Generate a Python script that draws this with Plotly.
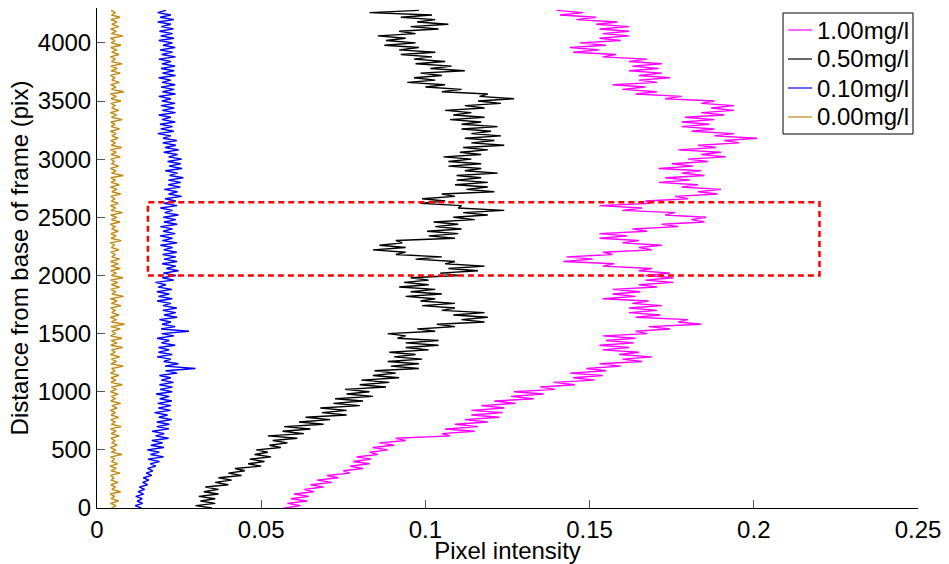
import plotly.graph_objects as go

# Sampling positions along the frame (pix)
distance = list(range(0, 4281, 20))

# Pixel intensity profiles
conc_100 = [0.057, 0.062, 0.058, 0.064, 0.059, 0.0645, 0.060, 0.066, 0.063, 0.069,
            0.065, 0.0715, 0.067, 0.0735, 0.070, 0.077, 0.075, 0.081, 0.077, 0.083,
            0.078, 0.0835, 0.079, 0.0855, 0.083, 0.0885, 0.084, 0.0905, 0.086, 0.094,
            0.091, 0.1075, 0.105, 0.115, 0.106, 0.116, 0.109, 0.119, 0.112, 0.1225,
            0.114, 0.1235, 0.114, 0.124, 0.117, 0.1275, 0.121, 0.133, 0.126, 0.136,
            0.127, 0.1395, 0.135, 0.1455, 0.139, 0.1515, 0.145, 0.154, 0.144, 0.155,
            0.149, 0.1595, 0.153, 0.166, 0.160, 0.169, 0.159, 0.165, 0.154, 0.162,
            0.153, 0.1635, 0.155, 0.164, 0.154, 0.1675, 0.164, 0.1745, 0.168, 0.184,
            0.177, 0.180, 0.164, 0.1715, 0.162, 0.1705, 0.162, 0.172, 0.163, 0.168,
            0.154, 0.164, 0.157, 0.1655, 0.157, 0.1705, 0.165, 0.1755, 0.167, 0.1755,
            0.167, 0.1745, 0.165, 0.169, 0.154, 0.1575, 0.142, 0.151, 0.143, 0.157,
            0.154, 0.169, 0.165, 0.172, 0.160, 0.165, 0.153, 0.1615, 0.153, 0.1675,
            0.163, 0.177, 0.172, 0.185, 0.181, 0.1855, 0.173, 0.176, 0.160, 0.166,
            0.153, 0.1685, 0.167, 0.180, 0.176, 0.189, 0.183, 0.190, 0.178, 0.183,
            0.171, 0.1805, 0.173, 0.185, 0.178, 0.184, 0.171, 0.1815, 0.175, 0.186,
            0.180, 0.1915, 0.184, 0.190, 0.177, 0.1885, 0.183, 0.1955, 0.191, 0.201,
            0.188, 0.194, 0.181, 0.188, 0.178, 0.1865, 0.178, 0.188, 0.179, 0.191,
            0.184, 0.194, 0.187, 0.194, 0.184, 0.188, 0.173, 0.178, 0.164, 0.1705,
            0.160, 0.167, 0.157, 0.1705, 0.165, 0.1745, 0.165, 0.172, 0.162, 0.171,
            0.163, 0.172, 0.162, 0.1675, 0.154, 0.158, 0.145, 0.153, 0.144, 0.155,
            0.147, 0.1595, 0.153, 0.162, 0.154, 0.162, 0.153, 0.162, 0.152, 0.1585,
            0.146, 0.152, 0.141, 0.148, 0.140]

conc_050 = [0.035, 0.030, 0.036, 0.0315, 0.036, 0.031, 0.037, 0.0325, 0.037, 0.033,
            0.040, 0.036, 0.041, 0.037, 0.044, 0.040, 0.045, 0.042, 0.050, 0.046,
            0.051, 0.0465, 0.053, 0.048, 0.052, 0.0485, 0.056, 0.0525, 0.058, 0.0535,
            0.061, 0.052, 0.063, 0.0565, 0.065, 0.057, 0.069, 0.0615, 0.071, 0.0635,
            0.076, 0.0685, 0.076, 0.068, 0.080, 0.072, 0.081, 0.0725, 0.084, 0.076,
            0.083, 0.0755, 0.088, 0.080, 0.089, 0.0805, 0.092, 0.084, 0.091, 0.0845,
            0.098, 0.0895, 0.098, 0.0885, 0.099, 0.0905, 0.097, 0.089, 0.101, 0.094,
            0.104, 0.094, 0.104, 0.0915, 0.094, 0.0885, 0.103, 0.0975, 0.109, 0.1035,
            0.118, 0.111, 0.119, 0.1085, 0.118, 0.105, 0.109, 0.099, 0.109, 0.0985,
            0.103, 0.094, 0.105, 0.0955, 0.103, 0.092, 0.101, 0.0935, 0.101, 0.0955,
            0.110, 0.1045, 0.116, 0.107, 0.118, 0.106, 0.109, 0.097, 0.105, 0.091,
            0.094, 0.084, 0.094, 0.086, 0.093, 0.091, 0.109, 0.101, 0.110, 0.1005,
            0.111, 0.103, 0.110, 0.1025, 0.115, 0.1085, 0.119, 0.1115, 0.124, 0.110,
            0.111, 0.0985, 0.106, 0.099, 0.109, 0.105, 0.121, 0.1125, 0.119, 0.109,
            0.119, 0.1095, 0.117, 0.1095, 0.122, 0.112, 0.117, 0.107, 0.117, 0.107,
            0.114, 0.1055, 0.117, 0.1105, 0.119, 0.1115, 0.124, 0.114, 0.121, 0.112,
            0.123, 0.114, 0.120, 0.111, 0.122, 0.111, 0.117, 0.1075, 0.118, 0.1085,
            0.114, 0.106, 0.118, 0.112, 0.123, 0.116, 0.127, 0.1165, 0.119, 0.105,
            0.111, 0.100, 0.106, 0.0945, 0.103, 0.0965, 0.105, 0.0985, 0.112, 0.1015,
            0.108, 0.097, 0.106, 0.0965, 0.102, 0.0925, 0.103, 0.092, 0.098, 0.0875,
            0.097, 0.088, 0.094, 0.0855, 0.097, 0.092, 0.104, 0.0955, 0.107, 0.0975,
            0.103, 0.0925, 0.102, 0.083, 0.098]

conc_010 = [0.0135, 0.0116, 0.0139, 0.0122, 0.0138, 0.0118, 0.0142, 0.0125, 0.0145, 0.0129,
            0.0154, 0.0139, 0.0158, 0.0141, 0.0167, 0.0150, 0.0170, 0.0154, 0.0179, 0.0162,
            0.0190, 0.0155, 0.0203, 0.0163, 0.0190, 0.0153, 0.0204, 0.0164, 0.0200, 0.0167,
            0.0218, 0.0178, 0.0205, 0.0168, 0.0219, 0.0182, 0.0220, 0.0182, 0.0228, 0.0188,
            0.0215, 0.0175, 0.0224, 0.0187, 0.0225, 0.0185, 0.0228, 0.0191, 0.0220, 0.0180,
            0.0229, 0.0192, 0.0230, 0.0190, 0.0233, 0.0196, 0.0225, 0.0190, 0.0244, 0.0209,
            0.0300, 0.0207, 0.0248, 0.0203, 0.0225, 0.0183, 0.0229, 0.0187, 0.0220, 0.0187,
            0.0238, 0.0196, 0.0220, 0.0183, 0.0234, 0.0197, 0.0280, 0.0195, 0.0238, 0.0198,
            0.0225, 0.0190, 0.0244, 0.0204, 0.0240, 0.0200, 0.0243, 0.0201, 0.0225, 0.0183,
            0.0229, 0.0187, 0.0220, 0.0182, 0.0228, 0.0186, 0.0210, 0.0178, 0.0234, 0.0199,
            0.0240, 0.0202, 0.0248, 0.0211, 0.0240, 0.0198, 0.0244, 0.0204, 0.0240, 0.0200,
            0.0243, 0.0203, 0.0230, 0.0193, 0.0244, 0.0199, 0.0230, 0.0192, 0.0238, 0.0201,
            0.0230, 0.0193, 0.0244, 0.0204, 0.0240, 0.0202, 0.0248, 0.0206, 0.0230, 0.0193,
            0.0244, 0.0204, 0.0240, 0.0207, 0.0258, 0.0218, 0.0245, 0.0205, 0.0254, 0.0217,
            0.0255, 0.0217, 0.0263, 0.0221, 0.0245, 0.0208, 0.0259, 0.0219, 0.0255, 0.0215,
            0.0258, 0.0218, 0.0245, 0.0203, 0.0249, 0.0207, 0.0240, 0.0200, 0.0243, 0.0201,
            0.0225, 0.0185, 0.0234, 0.0194, 0.0230, 0.0192, 0.0238, 0.0198, 0.0225, 0.0188,
            0.0239, 0.0199, 0.0235, 0.0195, 0.0238, 0.0198, 0.0225, 0.0188, 0.0239, 0.0199,
            0.0235, 0.0195, 0.0238, 0.0198, 0.0225, 0.0188, 0.0239, 0.0199, 0.0235, 0.0195,
            0.0238, 0.0198, 0.0225, 0.0188, 0.0239, 0.0197, 0.0230, 0.0192, 0.0238, 0.0201,
            0.0230, 0.0188, 0.0234, 0.0194, 0.0230, 0.0190, 0.0233, 0.0196, 0.0225, 0.0185,
            0.0234, 0.0192, 0.0225, 0.0185, 0.0210]

conc_000 = [0.0044, 0.0058, 0.0041, 0.0066, 0.0043, 0.0054, 0.0040, 0.0072, 0.0045, 0.0056,
            0.0042, 0.0064, 0.0044, 0.0051, 0.0041, 0.0070, 0.0043, 0.0059, 0.0040, 0.0063,
            0.0045, 0.0053, 0.0042, 0.0076, 0.0044, 0.0057, 0.0041, 0.0062, 0.0046, 0.0054,
            0.0042, 0.0068, 0.0043, 0.0058, 0.0041, 0.0074, 0.0044, 0.0055, 0.0042, 0.0066,
            0.0043, 0.0056, 0.0041, 0.0061, 0.0045, 0.0072, 0.0042, 0.0055, 0.0044, 0.0064,
            0.0041, 0.0059, 0.0044, 0.0077, 0.0042, 0.0057, 0.0043, 0.0067, 0.0041, 0.0054,
            0.0045, 0.0080, 0.0042, 0.0059, 0.0044, 0.0069, 0.0041, 0.0055, 0.0044, 0.0078,
            0.0042, 0.0061, 0.0043, 0.0076, 0.0041, 0.0057, 0.0045, 0.0071, 0.0042, 0.0084,
            0.0044, 0.0059, 0.0041, 0.0067, 0.0045, 0.0055, 0.0042, 0.0073, 0.0044, 0.0061,
            0.0041, 0.0081, 0.0045, 0.0057, 0.0042, 0.0069, 0.0044, 0.0063, 0.0041, 0.0079,
            0.0044, 0.0059, 0.0042, 0.0071, 0.0043, 0.0065, 0.0041, 0.0069, 0.0045, 0.0056,
            0.0042, 0.0067, 0.0044, 0.0053, 0.0041, 0.0074, 0.0043, 0.0058, 0.0042, 0.0064,
            0.0045, 0.0055, 0.0041, 0.0070, 0.0044, 0.0060, 0.0042, 0.0078, 0.0043, 0.0057,
            0.0041, 0.0065, 0.0044, 0.0054, 0.0042, 0.0072, 0.0045, 0.0061, 0.0041, 0.0068,
            0.0043, 0.0056, 0.0042, 0.0080, 0.0044, 0.0058, 0.0041, 0.0066, 0.0045, 0.0053,
            0.0042, 0.0071, 0.0043, 0.0059, 0.0041, 0.0075, 0.0044, 0.0056, 0.0042, 0.0064,
            0.0045, 0.0058, 0.0041, 0.0069, 0.0043, 0.0054, 0.0042, 0.0077, 0.0044, 0.0060,
            0.0041, 0.0066, 0.0045, 0.0055, 0.0042, 0.0073, 0.0043, 0.0059, 0.0041, 0.0082,
            0.0044, 0.0057, 0.0042, 0.0068, 0.0045, 0.0054, 0.0041, 0.0071, 0.0043, 0.0062,
            0.0042, 0.0076, 0.0044, 0.0056, 0.0041, 0.0067, 0.0045, 0.0060, 0.0042, 0.0073,
            0.0043, 0.0055, 0.0041, 0.0079, 0.0044, 0.0058, 0.0042, 0.0066, 0.0045, 0.0061,
            0.0042, 0.0070, 0.0044, 0.0056, 0.0043]

series_names = ["1.00mg/l", "0.50mg/l", "0.10mg/l", "0.00mg/l"]
series_values = [conc_100, conc_050, conc_010, conc_000]
series_colors = ["#FF00FF", "#000000", "#0000FF", "#C08A12"]

# Highlighted region (dashed box)
box_x = [0.0155, 0.2200]
box_y = [2000, 2630]

x_ticks = [0, 0.05, 0.1, 0.15, 0.2, 0.25]
x_tick_labels = ["0", "0.05", "0.1", "0.15", "0.2", "0.25"]
y_ticks = [0, 500, 1000, 1500, 2000, 2500, 3000, 3500, 4000]

FONT = "Liberation Sans, Arial, Helvetica, sans-serif"

fig = go.Figure()
for name, vals, col in zip(series_names, series_values, series_colors):
    fig.add_trace(go.Scatter(x=vals, y=distance, mode="lines", name=name,
                             line=dict(color=col, width=1.4), showlegend=False))

fig.add_shape(type="rect", xref="x", yref="y",
              x0=box_x[0], x1=box_x[1], y0=box_y[0], y1=box_y[1],
              line=dict(color="#FF0000", width=2.5, dash="6px,4px"))

# Legend drawn as a boxed key in the upper right corner (paper coordinates)
leg_left, leg_right, leg_bottom, leg_top = 0.8356, 0.9939, 0.748, 0.990
leg_rows = [0.956, 0.898, 0.840, 0.782]
fig.add_shape(type="rect", xref="paper", yref="paper",
              x0=leg_left, x1=leg_right, y0=leg_bottom, y1=leg_top,
              line=dict(color="black", width=1), fillcolor="white", layer="above")
for name, col, yr in zip(series_names, series_colors, leg_rows):
    fig.add_shape(type="line", xref="paper", yref="paper",
                  x0=0.8417, x1=0.8709, y0=yr, y1=yr,
                  line=dict(color=col, width=1.2), layer="above")
    fig.add_annotation(xref="paper", yref="paper", x=0.8745, y=yr,
                       text=name, showarrow=False, xanchor="left", yanchor="middle",
                       font=dict(size=24, color="black"))

fig.update_layout(
    width=949, height=564,
    margin=dict(l=97, r=31, t=8, b=56),
    paper_bgcolor="white", plot_bgcolor="white",
    font=dict(family=FONT, size=24, color="black"),
    showlegend=False,
    xaxis=dict(range=[0, 0.25], tickvals=x_ticks, ticktext=x_tick_labels,
               ticks="inside", ticklen=8, tickcolor="#555", showline=True,
               linecolor="black", linewidth=1, showgrid=False, zeroline=False,
               mirror=False, automargin=False,
               title=dict(text="Pixel intensity", standoff=0, font=dict(size=24))),
    yaxis=dict(range=[0, 4300], tickvals=y_ticks,
               ticks="inside", ticklen=8, tickcolor="#555", showline=True,
               linecolor="black", linewidth=1, showgrid=False, zeroline=False,
               mirror=False, automargin=False,
               title=dict(text="Distance from base of frame (pix)", standoff=2,
                          font=dict(size=24))),
)

fig.write_html("out.html")
